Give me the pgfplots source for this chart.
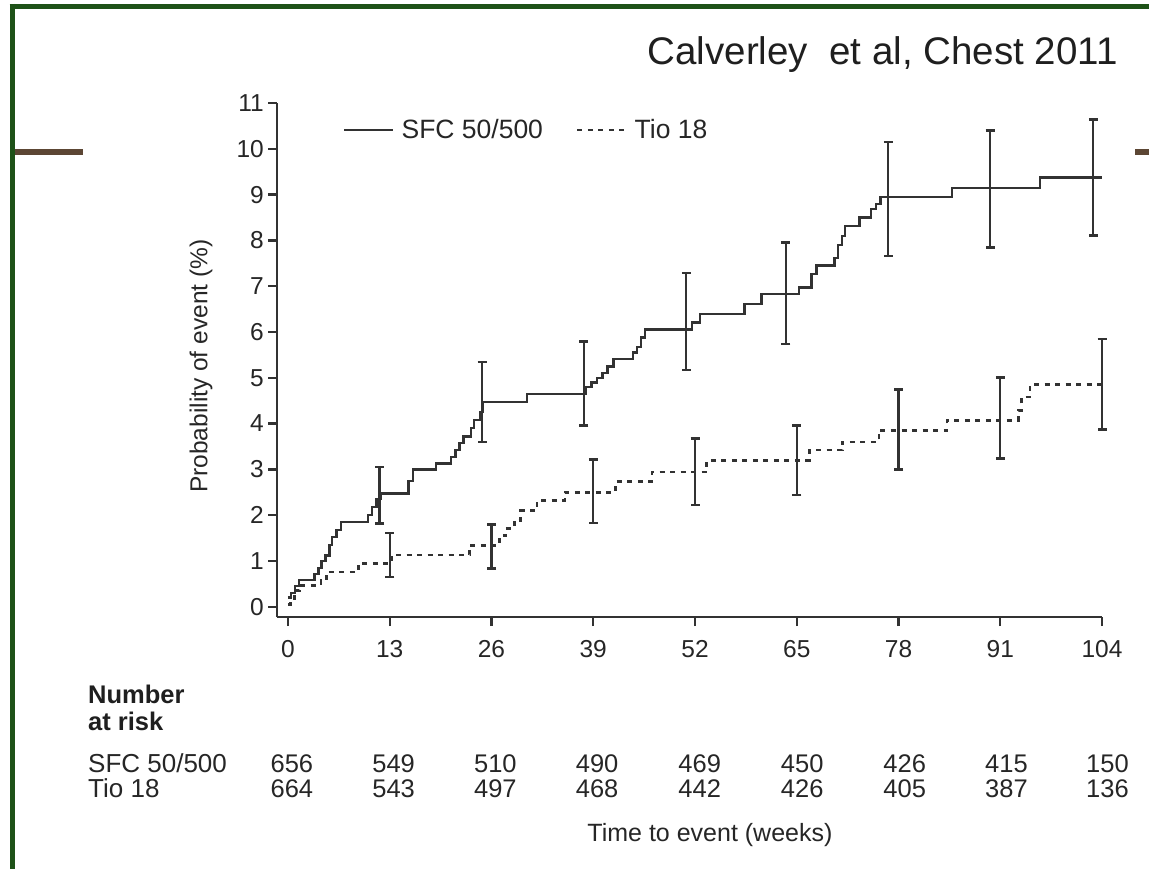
\documentclass[border=0pt]{standalone}
\usepackage{fontspec}
\setmainfont{Liberation Sans}
\usepackage{pgfplots}
\usepackage{pgfplotstable}
\pgfplotsset{compat=1.18}
\definecolor{frameGreen}{RGB}{30,82,24}
\definecolor{barBrown}{RGB}{92,70,52}
\definecolor{ink}{RGB}{50,50,50}
\tikzset{risk/.style={anchor=base, inner sep=0pt, font=\fontsize{25.5}{25.5}\selectfont, text=black!85}}

\pgfplotstableread{
x y
0 0.2
0.4 0.3
0.9 0.45
1.4 0.58
3.4 0.72
3.9 0.85
4.3 1.0
4.8 1.12
5.3 1.35
5.6 1.52
6.2 1.68
6.8 1.85
10.2 2.0
10.7 2.18
11.3 2.35
11.9 2.47
15.4 2.75
16.0 3.0
18.9 3.13
20.8 3.27
21.4 3.42
21.9 3.57
22.4 3.72
23.4 3.9
23.8 4.08
24.6 4.25
24.9 4.47
30.5 4.65
38.1 4.8
38.8 4.9
39.5 5.0
40.2 5.1
40.8 5.25
41.6 5.41
44.1 5.55
44.6 5.67
45.1 5.88
45.6 6.05
51.6 6.21
52.6 6.39
58.3 6.61
60.5 6.83
65.3 6.97
66.9 7.26
67.5 7.45
69.8 7.62
70.3 7.9
70.8 8.1
71.2 8.32
73.0 8.5
74.5 8.68
75.1 8.8
75.7 8.95
84.8 9.14
96.1 9.37
104 9.37
}\sfcdata

\pgfplotstableread{
x y
0 0.05
0.3 0.18
0.8 0.36
1.5 0.47
4.2 0.58
4.9 0.76
9.0 0.95
13.2 1.13
23.2 1.34
27.0 1.55
27.8 1.71
28.9 1.89
29.7 2.1
31.8 2.32
35.4 2.5
41.8 2.73
46.5 2.94
53.5 3.2
66.6 3.42
70.8 3.6
75.5 3.85
84.2 4.07
93.3 4.29
93.7 4.58
94.8 4.85
104 4.85
}\tiodata

\pgfplotstableread{
x y e
11.7 2.435 0.615
24.8 4.47 0.87
37.8 4.875 0.915
50.9 6.23 1.06
63.6 6.845 1.105
76.7 8.905 1.245
89.7 9.125 1.275
102.9 9.37 1.27
}\sfcerr

\pgfplotstableread{
x y e
13 1.13 0.48
26 1.32 0.48
39 2.52 0.69
52 2.945 0.725
65 3.2 0.76
78 3.865 0.875
91 4.12 0.89
104 4.86 0.99
}\tioerr

\begin{document}
\begin{tikzpicture}
\begin{scope}[x=1pt,y=-1pt]
\path[use as bounding box] (0,0) rectangle (1149,869);
\fill[white] (0,0) rectangle (1149,869);
\draw[frameGreen, line width=5pt] (9.5,6.5) -- (1149,6.5);
\draw[frameGreen, line width=5pt] (12,4) -- (12,869);
\draw[barBrown, line width=6pt] (14.5,152.5) -- (83,152.5);
\draw[barBrown, line width=6pt] (1135,152.5) -- (1149,152.5);
\node[anchor=base east, inner sep=0pt, font=\fontsize{38.5}{38.5}\selectfont, text=black!88] at (1118,65) {Calverley\ \ et al, Chest 2011};
\node[anchor=base west, inner sep=0pt, font=\bfseries\fontsize{25.5}{25.5}\selectfont, text=black!88] at (88,703) {Number};
\node[anchor=base west, inner sep=0pt, font=\bfseries\fontsize{25.5}{25.5}\selectfont, text=black!88] at (88,730) {at risk};
\node[anchor=base west, inner sep=0pt, font=\fontsize{26}{26}\selectfont, text=black!85] at (88,772) {SFC 50/500};
\node[anchor=base west, inner sep=0pt, font=\fontsize{26}{26}\selectfont, text=black!85] at (88,797.5) {Tio 18};
\end{scope}

\begin{axis}[
  at={(277pt,-617pt)}, anchor=south west,
  scale only axis, width=825pt, height=514pt,
  xmin=-1.405, xmax=104, ymin=-0.225, ymax=11,
  axis x line*=bottom, axis y line*=left,
  axis line style={ink, line width=2.6pt},
  xtick={0,13,...,104}, ytick={0,1,...,11},
  tick align=outside, major tick length=9pt,
  every tick/.style={ink, line width=2.4pt},
  tick label style={font=\fontsize{24.5}{24.5}\selectfont, text=black!85, inner sep=0pt},
  xticklabel style={yshift=-14pt},
  yticklabel style={xshift=-4pt},
  /pgf/number format/assume math mode=true,
  xlabel={Time to event (weeks)},
  xlabel style={at={(rel axis cs:0.5248,-0.4377)}, anchor=base, font=\fontsize{25}{25}\selectfont, text=black!85, inner sep=0pt},
  ylabel={Probability of event (\%)},
  ylabel style={at={(rel axis cs:-0.092,0.488)}, anchor=center, rotate=0, font=\fontsize{24.5}{24.5}\selectfont, text=black!85, inner sep=0pt},
  clip=false,
  legend style={at={(rel axis cs:0.08,0.9475)}, anchor=west, draw=none, fill=none,
    font=\fontsize{26.5}{26.5}\selectfont, text=black!85, inner sep=0pt, nodes={inner sep=0pt},
    /tikz/every odd column/.append style={column sep=7pt},
    /tikz/every even column/.append style={column sep=33pt}},
  legend columns=2, legend cell align=left,
  legend image code/.code={\draw[#1] (0pt,0pt) -- (49pt,0pt);},
]
\addplot[const plot, ink, line width=2.4pt] table[x=x,y=y] {\sfcdata};
\addlegendentry{SFC 50/500}
\addplot[const plot, ink, line width=2.7pt, dash pattern=on 5pt off 5.5pt] table[x=x,y=y] {\tiodata};
\addlegendentry{Tio 18}

\addplot[draw=none, forget plot, error bars/.cd, y dir=both, y explicit,
  error bar style={draw=ink, solid, line width=2.2pt},
  error mark options={draw=ink, solid, line width=2.6pt, mark size=4.5pt, rotate=90}]
  table[x=x, y=y, y error plus=e, y error minus=e] {\sfcerr};
\addplot[draw=none, forget plot, error bars/.cd, y dir=both, y explicit,
  error bar style={draw=ink, solid, line width=2.2pt},
  error mark options={draw=ink, solid, line width=2.6pt, mark size=4.5pt, rotate=90}]
  table[x=x, y=y, y error plus=e, y error minus=e] {\tioerr};

\node[risk] at (axis cs:0.5,-3.61) {656};
\node[risk] at (axis cs:13.5,-3.61) {549};
\node[risk] at (axis cs:26.5,-3.61) {510};
\node[risk] at (axis cs:39.5,-3.61) {490};
\node[risk] at (axis cs:52.6,-3.61) {469};
\node[risk] at (axis cs:65.7,-3.61) {450};
\node[risk] at (axis cs:78.8,-3.61) {426};
\node[risk] at (axis cs:91.8,-3.61) {415};
\node[risk] at (axis cs:104.7,-3.61) {150};
\node[risk] at (axis cs:0.5,-4.167) {664};
\node[risk] at (axis cs:13.5,-4.167) {543};
\node[risk] at (axis cs:26.5,-4.167) {497};
\node[risk] at (axis cs:39.5,-4.167) {468};
\node[risk] at (axis cs:52.6,-4.167) {442};
\node[risk] at (axis cs:65.7,-4.167) {426};
\node[risk] at (axis cs:78.8,-4.167) {405};
\node[risk] at (axis cs:91.8,-4.167) {387};
\node[risk] at (axis cs:104.7,-4.167) {136};
\end{axis}
\end{tikzpicture}
\end{document}
